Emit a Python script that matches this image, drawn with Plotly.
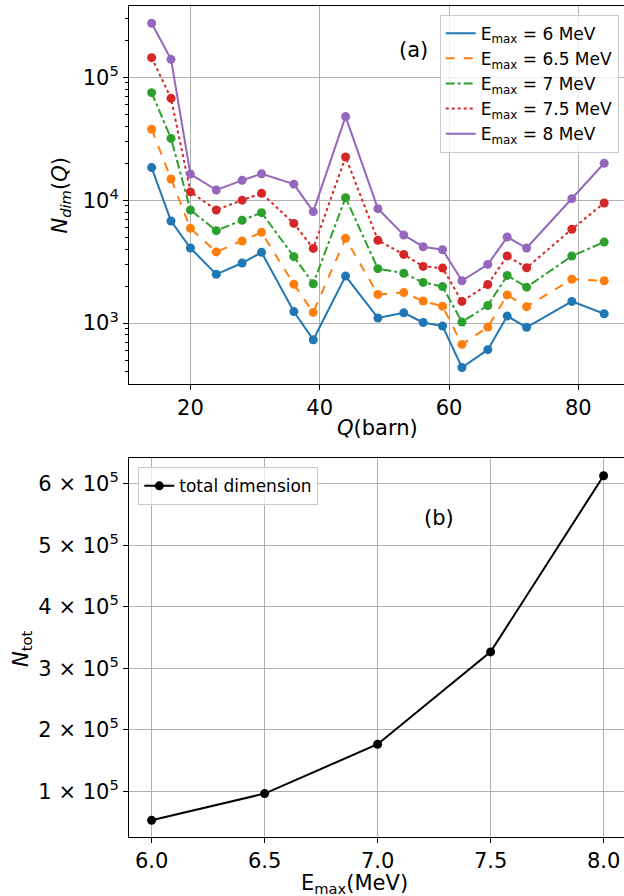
import plotly.graph_objects as go
from plotly.subplots import make_subplots

# ---------------- data ----------------
Q = [14, 17, 20, 24, 28, 31, 36, 39, 44, 49, 53, 56, 59, 62, 66, 69, 72, 79, 84]
N_6 = [18400, 6770, 4080, 2490, 3080, 3760, 1240, 731, 2410, 1100, 1210, 1010, 945, 435, 607, 1140, 923, 1500, 1190]
N_65 = [37800, 14860, 5900, 3790, 4650, 5470, 2070, 1220, 4890, 1710, 1770, 1510, 1370, 670, 927, 1690, 1360, 2270, 2210]
N_7 = [75000, 31800, 8320, 5650, 6860, 7910, 3470, 2090, 10470, 2770, 2540, 2140, 1980, 1020, 1390, 2440, 1960, 3510, 4560]
N_75 = [144500, 67400, 11670, 8320, 10000, 11370, 6470, 4050, 22450, 4710, 3620, 2890, 2800, 1500, 2060, 3510, 2820, 5800, 9480]
N_8 = [275000, 140000, 16300, 12100, 14500, 16400, 13500, 8060, 47900, 8530, 5200, 4180, 3950, 2210, 3000, 5010, 4080, 10280, 19950]

series_names = ["E<sub>max</sub> = 6 MeV", "E<sub>max</sub> = 6.5 MeV", "E<sub>max</sub> = 7 MeV",
                "E<sub>max</sub> = 7.5 MeV", "E<sub>max</sub> = 8 MeV"]

E_max = [6.0, 6.5, 7.0, 7.5, 8.0]
N_tot = [52800, 96300, 176500, 326600, 613000]

top_yticks = [1e3, 1e4, 1e5]
top_yticktext = ["10<sup>3</sup>", "10<sup>4</sup>", "10<sup>5</sup>"]
bot_yticks = [1e5, 2e5, 3e5, 4e5, 5e5, 6e5]
bot_yticktext = [f"{k} × 10<sup>5</sup>" for k in range(1, 7)]

# ---------------- style ----------------
colors = ["#1f77b4", "#ff7f0e", "#2ca02c", "#d62728", "#9467bd"]
dashes = ["solid", "dash", "dashdot", "dot", "solid"]
FONT = "DejaVu Sans"
GRID = "#b0b0b0"

W, H = 624, 896
ML, MR, MT, MB = 129, 0, 6, 59
PH = H - MT - MB  # plot area height in px


def py(px):
    """pixel y (from top) -> paper fraction"""
    return (H - MB - px) / PH


def pxx(px):
    return (px - ML) / (W - ML - MR)


fig = make_subplots(rows=2, cols=1)

series = [N_6, N_65, N_7, N_75, N_8]
for vals, name, c, d in zip(series, series_names, colors, dashes):
    fig.add_trace(go.Scatter(x=Q, y=vals, mode="lines+markers", name=name,
                             line=dict(color=c, width=2, dash=d),
                             marker=dict(color=c, size=9),
                             showlegend=False), row=1, col=1)
    # legend entry: line only (as in the reference legend)
    fig.add_trace(go.Scatter(x=[None], y=[None], mode="lines", name=name,
                             line=dict(color=c, width=2, dash=d),
                             legend="legend"), row=1, col=1)

fig.add_trace(go.Scatter(x=E_max, y=N_tot, mode="lines+markers", name="total dimension",
                         line=dict(color="black", width=2),
                         marker=dict(color="black", size=9),
                         legend="legend2"), row=2, col=1)

axis_common = dict(showline=True, linecolor="black", linewidth=1.1,
                   ticks="outside", ticklen=5, tickwidth=1.1, tickcolor="black",
                   showgrid=True, gridcolor=GRID, gridwidth=1.1, zeroline=False,
                   tickfont=dict(family=FONT, size=21, color="black"))

minor_vals = [m * 10 ** e for e in (2, 3, 4, 5) for m in range(2, 10)]

fig.update_layout(
    width=W, height=H,
    margin=dict(l=ML, r=MR, t=MT, b=MB),
    paper_bgcolor="white", plot_bgcolor="white",
    font=dict(family=FONT, color="black"),
    xaxis=dict(axis_common, domain=[0, 1], range=[10.5, 10.5 + (W - ML - MR) / 6.465],
               tickvals=[20, 40, 60, 80], mirror=True, anchor="y"),
    yaxis=dict(axis_common, domain=[py(384), py(6)], type="log", range=[2.504, 5.58],
               tickvals=top_yticks, ticktext=top_yticktext, anchor="x",
               minor=dict(tickmode="array", tickvals=minor_vals, ticks="outside",
                          ticklen=3, tickwidth=0.8, tickcolor="black", showgrid=False)),
    xaxis2=dict(axis_common, domain=[0, 1], range=[5.9, 5.9 + (W - ML - MR) / 226.0],
                tickvals=E_max, ticktext=["6.0", "6.5", "7.0", "7.5", "8.0"], mirror=True, anchor="y2"),
    yaxis2=dict(axis_common, domain=[0, py(458.3)], range=[25700, 641300],
                tickvals=bot_yticks, ticktext=bot_yticktext, anchor="x2"),
    legend=dict(x=pxx(618.7), xanchor="right", y=py(14.7), yanchor="top",
                bgcolor="rgba(255,255,255,0.8)", bordercolor="#cccccc", borderwidth=1,
                font=dict(family=FONT, size=17, color="black")),
    legend2=dict(x=pxx(138.3), xanchor="left", y=py(467.3), yanchor="top",
                 bgcolor="rgba(255,255,255,0.8)", bordercolor="#cccccc", borderwidth=1,
                 font=dict(family=FONT, size=17, color="black")),
)

ann_font = dict(family=FONT, size=21, color="black")


def ann(text, x, y, angle=0):
    return dict(text=text, x=pxx(x), y=py(y), xref="paper", yref="paper",
                xanchor="center", yanchor="middle", showarrow=False,
                textangle=angle, font=ann_font)


annotations = [
    ann("(a)", 413, 50),
    ann("(b)", 439, 518),
    ann("<i>Q</i>(barn)", 377.5, 428),
    ann("E<sub>max</sub>(MeV)", 354, 884),
    ann("<i>N<sub>dim</sub></i>(<i>Q</i>)", 60.5, 196, -90),
    ann("<i>N</i><sub>tot</sub>", 22, 649, -90),
]
fig.update_layout(annotations=annotations)

fig.write_html("out.html")
